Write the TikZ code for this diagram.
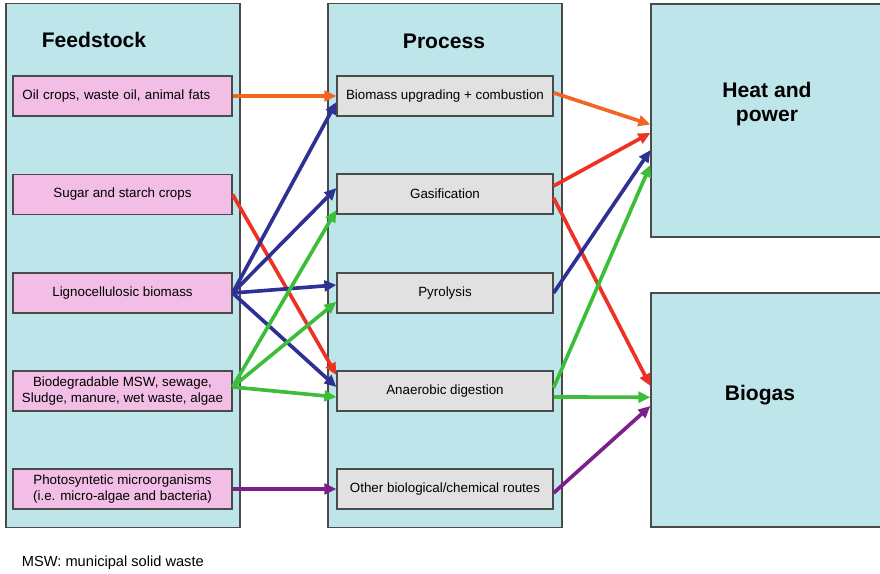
\documentclass[tikz,border=0pt]{standalone}
\usepackage{fontspec}
\setmainfont{Liberation Sans}
\usetikzlibrary{arrows.meta}

\definecolor{panelcyan}{HTML}{BDE5EA}
\definecolor{feedpink}{HTML}{F2BEE6}
\definecolor{procgray}{HTML}{E1E1E1}
\definecolor{edgegray}{HTML}{4A4A4A}
\definecolor{flowor}{HTML}{F26522}
\definecolor{flowred}{HTML}{EE3124}
\definecolor{flowblue}{HTML}{2E3192}
\definecolor{flowgreen}{HTML}{3DBE3A}
\definecolor{flowpurple}{HTML}{7B1F8A}

\begin{document}
\begin{tikzpicture}[x=0.025cm, y=-0.025cm,
  panel/.style={draw=edgegray, line width=0.8pt, fill=panelcyan, inner sep=0pt},
  feed/.style={draw=edgegray, line width=0.8pt, fill=feedpink, inner sep=0pt,
    minimum width=5.475cm, minimum height=1cm, align=center,
    font=\fontsize{9.5}{11.5}\selectfont},
  proc/.style={feed, fill=procgray, minimum width=5.4cm},
  title/.style={font=\fontsize{15}{17.7}\selectfont\bfseries, align=center},
  flow/.style={line width=2.6pt, -{Triangle[length=0.3cm, width=0.27cm]}}]
  \useasboundingbox (0,0) rectangle (880,573);

  % Columns
  \node[panel, minimum width=5.85cm, minimum height=13.075cm] (feedcol) at (123,265.5) {};
  \node[panel, minimum width=5.85cm, minimum height=13.075cm] (proccol) at (445,265.5) {};
  \node[panel, minimum width=5.775cm, minimum height=5.825cm] (heat) at (766.5,120.5) {};
  \node[panel, minimum width=5.775cm, minimum height=5.85cm] (biogas) at (766.5,410) {};

  % Titles
  \node[title] (feedtitle) at (94,40) {Feedstock};
  \node[title] (proctitle) at (444,41) {Process};
  \node[title] (heattitle) at (767,104) {Heat and\\power};
  \node[title] (biogastitle) at (760,395) {Biogas};

  % Feedstock
  \node[feed, text width=5cm, align=left] (oil) at (122.5,96) {Oil crops, waste oil, animal fats};
  \node[feed] (sugar) at (122.5,194.5) {Sugar and starch crops};
  \node[feed] (ligno) at (122.5,293) {Lignocellulosic biomass};
  \node[feed] (msw) at (122.5,391) {Biodegradable MSW, sewage,\\Sludge, manure, wet waste, algae};
  \node[feed] (micro) at (122.5,489) {Photosyntetic microorganisms\\(i.e. micro-algae and bacteria)};

  % Process
  \node[proc] (upgr) at (445,96) {Biomass upgrading + combustion};
  \node[proc] (gasif) at (445,194) {Gasification};
  \node[proc] (pyro) at (445,293) {Pyrolysis};
  \node[proc] (anaer) at (445,391) {Anaerobic digestion};
  \node[proc] (other) at (445,489) {Other biological/chemical routes};

  % Feedstock to process
  \draw[flow, flowor] (oil.east) -- (upgr.west);
  \draw[flow, flowred] (sugar.east) -- ([yshift=0.4cm]anaer.west);
  \draw[flow, flowblue] (ligno.east) -- ([yshift=-0.15cm]upgr.west);
  \draw[flow, flowblue] (ligno.east) -- ([yshift=0.15cm]gasif.west);
  \draw[flow, flowblue] (ligno.east) -- ([yshift=0.2cm]pyro.west);
  \draw[flow, flowblue] (ligno.east) -- ([yshift=0.1cm]anaer.west);
  \draw[flow, flowgreen] ([yshift=0.1cm]msw.east) -- ([yshift=-0.4cm]gasif.west);
  \draw[flow, flowgreen] ([yshift=0.1cm]msw.east) -- ([yshift=-0.22cm]pyro.west);
  \draw[flow, flowgreen] ([yshift=0.1cm]msw.east) -- ([yshift=-0.15cm]anaer.west);
  \draw[flow, flowpurple] (micro.east) -- (other.west);

  % Process to products
  \draw[flow, flowor] ([yshift=0.08cm]upgr.east) -- ([yshift=-0.1cm]heat.west);
  \draw[flow, flowred] ([yshift=0.2cm]gasif.east) -- ([yshift=-0.31cm]heat.west);
  \draw[flow, flowred] ([yshift=-0.1cm]gasif.east) -- ([yshift=0.6cm]biogas.west);
  \draw[flow, flowblue] (pyro.east) -- ([yshift=-0.74cm]heat.west);
  \draw[flow, flowgreen] ([yshift=0.08cm]anaer.east) -- ([yshift=-1.11cm]heat.west);
  \draw[flow, flowgreen] ([yshift=-0.15cm]anaer.east) -- ([yshift=0.32cm]biogas.west);
  \draw[flow, flowpurple] ([yshift=-0.1cm]other.east) -- ([yshift=0.1cm]biogas.west);

  % Note
  \node[anchor=west, font=\fontsize{10.4}{12}\selectfont] (note) at (17,563) {MSW: municipal solid waste};
\end{tikzpicture}
\end{document}
